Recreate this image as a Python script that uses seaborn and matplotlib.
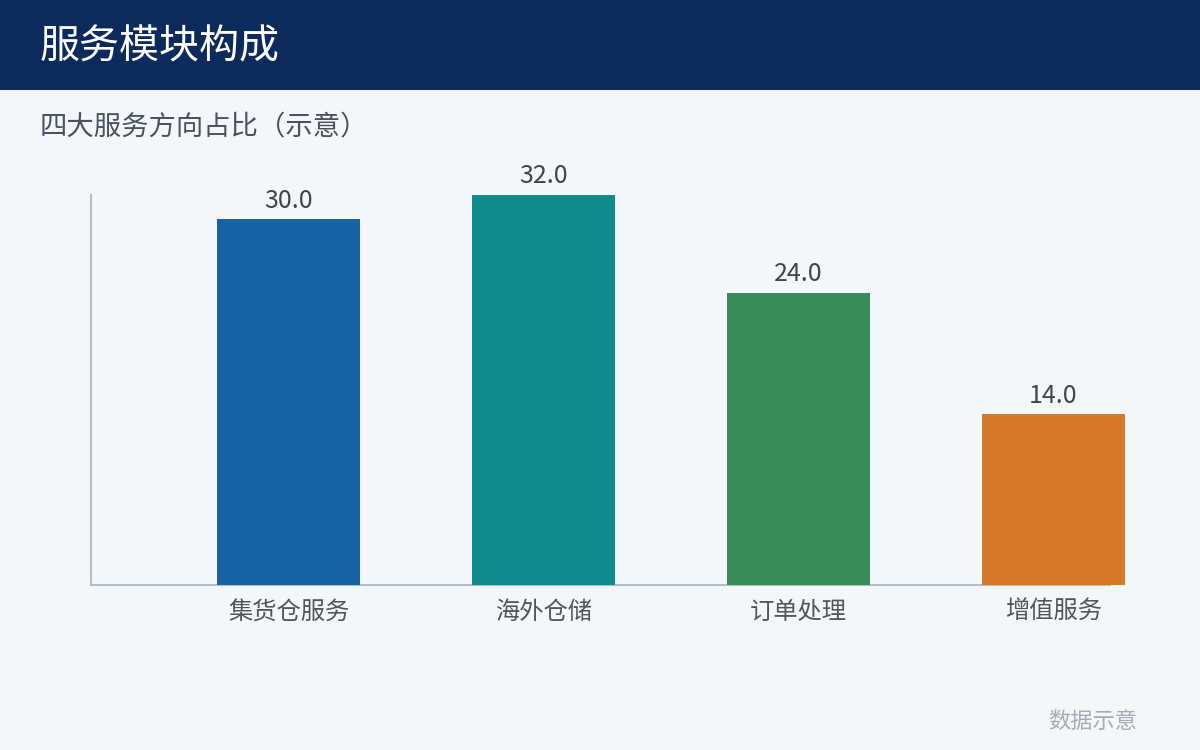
import matplotlib
matplotlib.use("Agg")
import matplotlib.pyplot as plt
import seaborn as sns
import pandas as pd
from matplotlib.patches import Rectangle

categories = ["集货仓服务", "海外仓储", "订单处理", "增值服务"]
values = [30.0, 32.0, 24.0, 14.0]
colors = ["#1662A3", "#118A8E", "#3A8B5A", "#D6792A"]
title = "服务模块构成"
subtitle = "四大服务方向占比（示意）"
footer = "数据示意"

sns.set_theme(style="white")
plt.rcParams['font.family'] = ['Noto Sans CJK SC', 'DejaVu Sans']

bg = "#F4F7FA"
fig = plt.figure(figsize=(12, 7.5), dpi=100, facecolor=bg)

# header band
fig.patches.append(Rectangle((0, 1 - 90 / 750), 1, 90 / 750, transform=fig.transFigure,
                             facecolor="#0C2A5C", edgecolor="none", zorder=0))
fig.text(40 / 1200, 1 - 47 / 750, title, color="white", fontsize=28.8, va="center", ha="left")
fig.text(40 / 1200, 1 - 128 / 750, subtitle, color="#4A5260", fontsize=19.7, va="center", ha="left")
fig.text(1137 / 1200, 1 - 721 / 750, footer, color="#A3ADB9", fontsize=16, va="center", ha="right")

ax = fig.add_axes([91 / 1200, 1 - 585 / 750, (1110 - 91) / 1200, (585 - 195) / 750])
ax.set_facecolor(bg)

df = pd.DataFrame({"cat": categories, "val": values})
sns.barplot(data=df, x="cat", y="val", hue="cat", palette=colors, legend=False,
            width=0.561, saturation=1, ax=ax, zorder=3)
for p in ax.patches:
    p.set_clip_on(False)
    p.set_edgecolor("none")

for i, v in enumerate(values):
    ax.annotate(f"{v:.1f}", (i, v), xytext=(0, 4), textcoords="offset points",
                ha="center", va="bottom", fontsize=18, color="#444444", annotation_clip=False)

ax.set_xlim(-0.7745, 3.2216)
ax.set_ylim(0, 32)
ax.set_xlabel("")
ax.set_ylabel("")
ax.set_yticks([])
ax.tick_params(axis="x", length=0, pad=10, labelsize=17.5, labelcolor="#555555")
for s in ["top", "right"]:
    ax.spines[s].set_visible(False)
for s in ["left", "bottom"]:
    ax.spines[s].set_color("#B3BDC8")
    ax.spines[s].set_linewidth(1.5)

fig.savefig("out.png", dpi=100, facecolor=bg)
